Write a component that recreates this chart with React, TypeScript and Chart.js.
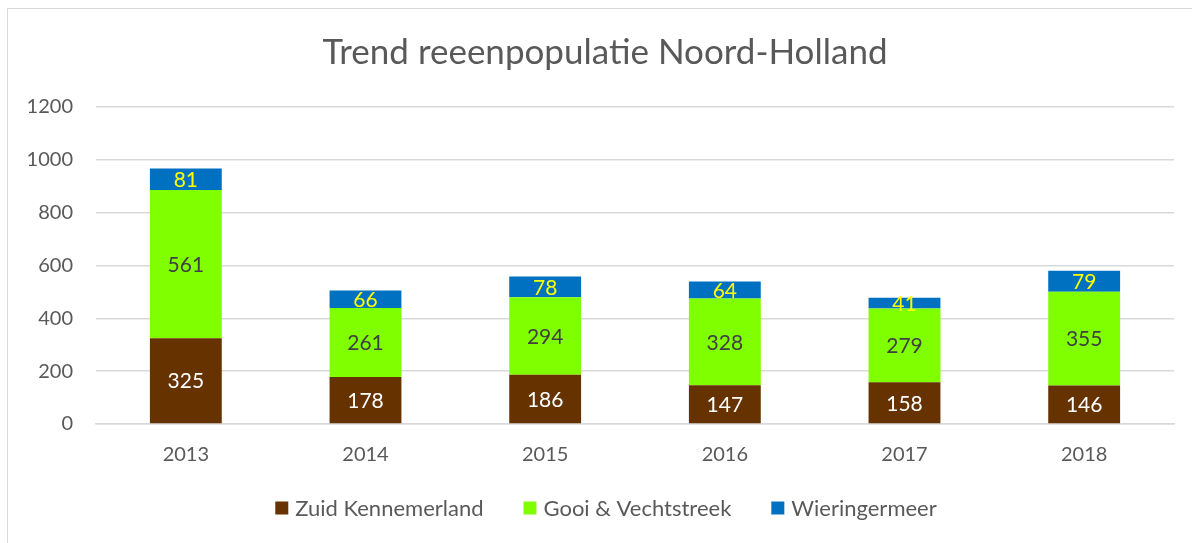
import React, { useEffect, useRef } from "react";
import { Chart, registerables } from "chart.js";

Chart.register(...registerables);

const TITLE = "Trend reeenpopulatie Noord-Holland";
const years = ["2013", "2014", "2015", "2016", "2017", "2018"];
const zuidKennemerland = [325, 178, 186, 147, 158, 146];
const gooiVechtstreek = [561, 261, 294, 328, 279, 355];
const wieringermeer = [81, 66, 78, 64, 41, 79];
const yTicks = [0, 200, 400, 600, 800, 1000, 1200];

const seriesNames = ["Zuid Kennemerland", "Gooi & Vechtstreek", "Wieringermeer"];
const seriesColors = ["#663300", "#80FF00", "#0070C0"];
const labelColors = ["#FFFFFF", "#404040", "#FFFF00"];

const FONT = "Lato, 'Open Sans', sans-serif";
const TEXT = "#595959";

const dataLabelPlugin = {
  id: "stackLabels",
  afterDatasetsDraw(chart: any) {
    const ctx = chart.ctx;
    ctx.save();
    ctx.font = `21px ${FONT}`;
    ctx.textAlign = "center";
    ctx.textBaseline = "middle";
    chart.data.datasets.forEach((ds: any, i: number) => {
      const meta = chart.getDatasetMeta(i);
      meta.data.forEach((el: any, j: number) => {
        const v = ds.data[j];
        const props = el.getProps(["x", "y", "base"], true);
        ctx.fillStyle = labelColors[i];
        ctx.fillText(String(v), props.x, (props.y + props.base) / 2 + 1);
      });
    });
    ctx.restore();
  },
};

// Title and legend drawn at fixed centre so they line up with the reference
const titleLegendPlugin = {
  id: "titleLegend",
  afterDraw(chart: any) {
    const ctx = chart.ctx;
    ctx.save();
    // title
    ctx.font = `35px ${FONT}`;
    ctx.fillStyle = TEXT;
    ctx.textAlign = "center";
    ctx.textBaseline = "middle";
    ctx.fillText(TITLE, 597, 44);
    // legend
    ctx.font = `22px ${FONT}`;
    const box = 13;
    const gap = 7;
    const spacing = 40;
    const widths = chart.data.datasets.map((ds: any) => ctx.measureText(ds.label).width);
    const total =
      widths.reduce((a: number, w: number) => a + box + gap + w, 0) + spacing * (widths.length - 1);
    let x = 598 - total / 2;
    const y = 499;
    ctx.textAlign = "left";
    chart.data.datasets.forEach((ds: any, i: number) => {
      ctx.fillStyle = ds.backgroundColor;
      ctx.fillRect(x, y - box / 2, box, box);
      x += box + gap;
      ctx.fillStyle = TEXT;
      ctx.fillText(ds.label, x, y + 1);
      x += widths[i] + spacing;
    });
    ctx.restore();
  },
};

export default function App() {
  const ref = useRef<HTMLCanvasElement>(null);
  useEffect(() => {
    if (!ref.current) return;
    const chart = new Chart(ref.current, {
      type: "bar",
      data: {
        labels: years,
        datasets: [zuidKennemerland, gooiVechtstreek, wieringermeer].map((d, i) => ({
          label: seriesNames[i],
          data: d,
          backgroundColor: seriesColors[i],
          categoryPercentage: 1,
          barPercentage: 0.4,
        })),
      },
      options: {
        animation: false,
        responsive: false,
        layout: { padding: { left: 0, right: 18, top: 98, bottom: 69 } },
        plugins: {
          title: { display: false },
          legend: { display: false },
          tooltip: { enabled: false },
        },
        scales: {
          x: {
            stacked: true,
            afterFit: (s: any) => {
              s.height = 50;
            },
            grid: { display: false, drawTicks: false },
            border: { display: true, color: "#d9d9d9", width: 1.5 },
            ticks: { color: TEXT, font: { family: FONT, size: 20 }, padding: 19 },
          },
          y: {
            stacked: true,
            min: 0,
            max: 1200,
            afterBuildTicks: (s: any) => {
              s.ticks = yTicks.map((v) => ({ value: v }));
            },
            afterFit: (s: any) => {
              s.width = 88;
            },
            grid: { color: "#d9d9d9", lineWidth: 1.5, drawTicks: false },
            border: { display: false },
            ticks: {
              color: TEXT,
              font: { family: FONT, size: 20 },
              padding: 23,
              callback: (v: any) => String(v),
            },
          },
        },
      },
      plugins: [dataLabelPlugin, titleLegendPlugin],
    });
    return () => chart.destroy();
  }, []);
  return (
    <div
      style={{
        position: "absolute",
        left: 7,
        top: 8,
        width: 1185,
        height: 540,
        borderLeft: "1px solid #d9d9d9",
        borderTop: "1px solid #d9d9d9",
        background: "#fff",
        overflow: "hidden",
      }}
    >
      <canvas ref={ref} width={1184} height={534} style={{ display: "block" }} />
    </div>
  );
}
